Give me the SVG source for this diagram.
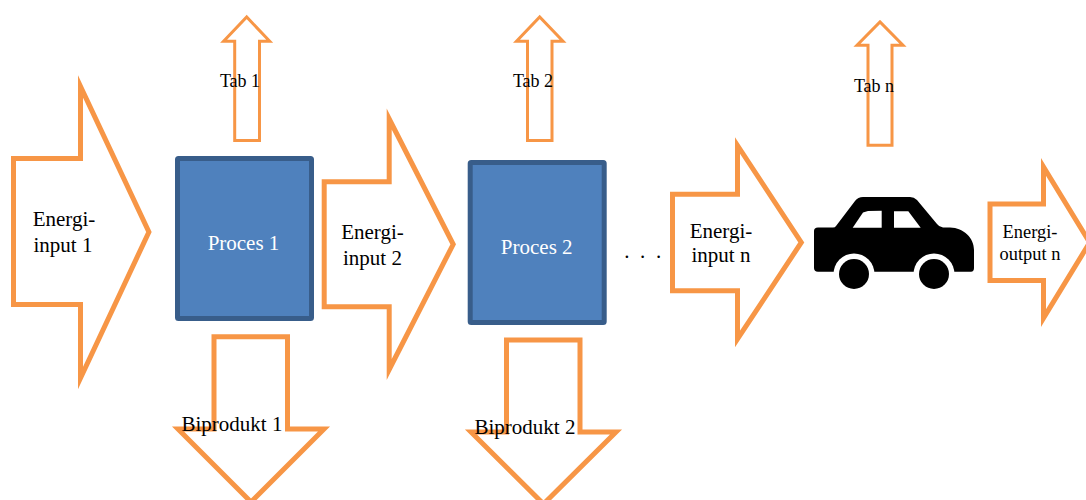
<svg xmlns="http://www.w3.org/2000/svg" width="1086" height="500" viewBox="0 0 1086 500">
<style>
text{font-family:"Liberation Serif","Times New Roman",serif;fill:#000;text-anchor:middle}
.a{fill:#fff;stroke:#f79646;stroke-width:5;stroke-miterlimit:20}
.t{stroke-width:3}
.p{fill:#4f81bd;stroke:#385d8a;stroke-width:5}
.l{font-size:21px}
.s{font-size:18px}
.o{font-size:18.4px}
.b{font-size:21px}
.w{fill:#fff}
</style>
<g id="connectors"></g>
<g id="energi-input-1"><polygon class="a" points="13.5,158.5 80.5,158.5 80.5,86.400 148.900,232 80.5,378 80.5,304.5 13.5,304.5"/><text class="l" x="64" y="226">Energi-</text><text class="l" x="63" y="252">input 1</text></g>
<g id="tab-1"><polygon class="a t" points="234.7,140.5 234.7,41.3 223.600,41.3 246.7,17 269.700,41.3 259.5,41.3 259.5,140.5"/><text class="s" x="240" y="87">Tab 1</text></g>
<g id="proces-1"><rect class="p" x="177.5" y="158.5" width="134" height="160" rx="1"/><text class="l" x="243.500" y="250" style="fill:#fff">Proces 1</text></g>
<g id="biprodukt-1"><polygon class="a" points="214,336.800 287.500,336.800 287.500,429 324,429 251,502 178,429 214,429"/><text class="b" x="232" y="431">Biprodukt 1</text></g>
<g id="energi-input-2"><polygon class="a" points="324.200,181.800 389.200,181.800 389.200,119 453.200,244.300 389.200,369.500 389.200,306.800 324.200,306.800"/><text class="l" x="372.500" y="239">Energi-</text><text class="l" x="372.500" y="265">input 2</text></g>
<g id="tab-2"><polygon class="a t" points="527.500,140.500 527.500,41.300 516.500,41.300 539.700,17 563,41.300 552,41.300 552,140.500"/><text class="s" x="533" y="87">Tab 2</text></g>
<g id="proces-2"><rect class="p" x="470.200" y="162.500" width="134" height="160" rx="1"/><text class="l" x="536.700" y="254" style="fill:#fff">Proces 2</text></g>
<g id="biprodukt-2"><polygon class="a" points="506.500,340 580,340 580,432 616,432 543.500,504 471,432 506.500,432"/><text class="b" x="525" y="434">Biprodukt 2</text></g>
<text class="l" x="644" y="257.500" style="letter-spacing:2.700px">. . .</text>
<g id="energi-input-n"><polygon class="a" points="672.500,194.200 737.500,194.200 737.500,145.500 801.300,242.500 737.500,339 737.500,290.700 672.500,290.700"/><text class="l" x="721" y="237.500">Energi-</text><text class="l" x="721" y="262">input n</text></g>
<g id="tab-n"><polygon class="a t" points="868,145.300 868,45.300 857,45.300 880,22 903,45.300 892,45.300 892,145.300"/><text class="s" x="874" y="92">Tab n</text></g>
<g id="car">
<path d="M818,227.500H833Q835,227.500 836,226L855,201Q858,197 863,197H910Q914,197 917,200L937,224Q939,227 943,227.500H950C964,228 974,238 974,250V268Q974,271.700 971,271.700H818Q814,271.700 814,268V231Q814,227.500 818,227.500Z" fill="#000"/>
<polygon class="w" points="852.700,227.700 863,212.500 868,211 881.700,210.700 881.700,227.700"/>
<polygon class="w" points="894,211.300 908.300,211.300 920.700,227.700 894,227.700"/>
<circle class="w" cx="854" cy="274" r="20.500"/><circle class="w" cx="934" cy="274" r="20.500"/>
<circle cx="854" cy="274" r="15" fill="#000"/><circle cx="934" cy="274" r="15" fill="#000"/>
</g>
<g id="energi-output-n"><polygon class="a" points="990,204 1043.500,204 1043.500,167 1089.700,242.500 1043.500,318 1043.500,280.500 990,280.500"/><text class="o" x="1030" y="238">Energi-</text><text class="o" x="1030" y="260">output n</text></g>
</svg>
